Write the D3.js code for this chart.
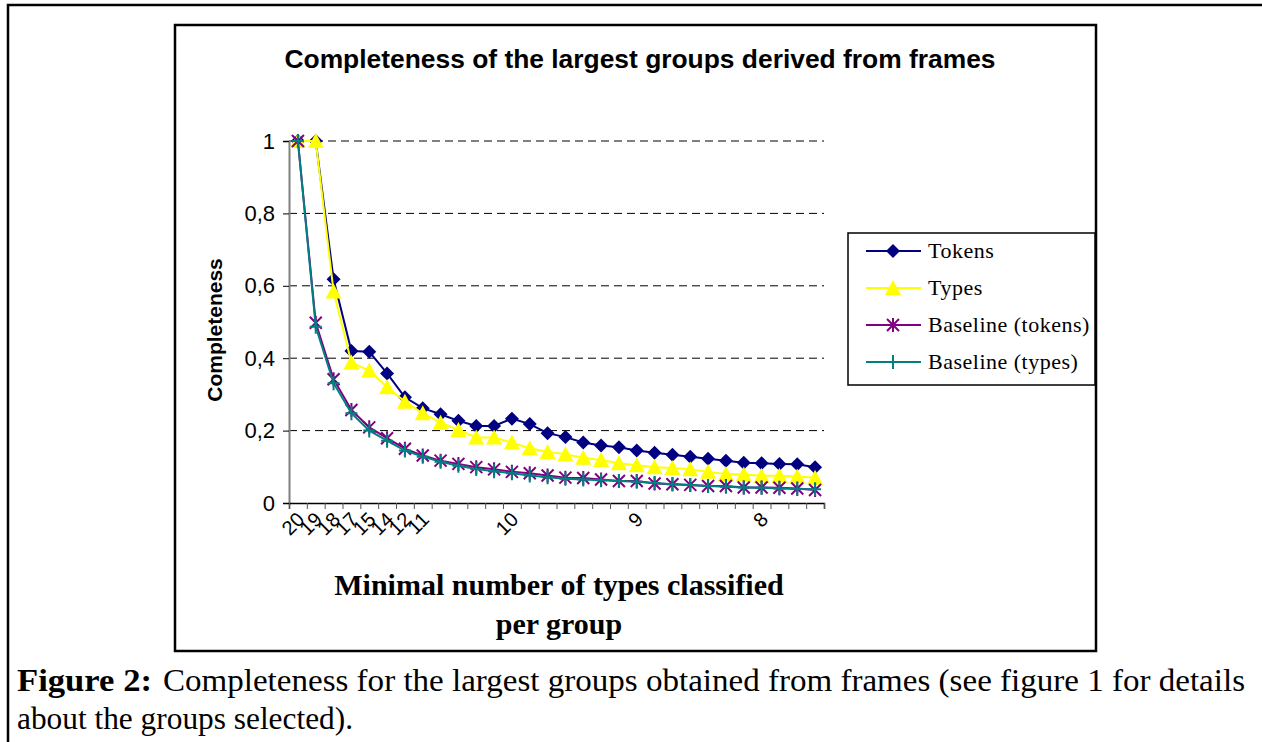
<!DOCTYPE html>
<html>
<head>
<meta charset="utf-8">
<script src="https://cdn.jsdelivr.net/npm/d3@7"></script>
<style>
  body { margin: 0; background: #fff; }
  svg { display: block; }
</style>
</head>
<body>
<div id="chart"></div>
<script>
// values, one point per group (30 groups)
var xLabels = ["20", "19", "18", "17", "15", "14", "12", "11", "", "", "", "", "10", "", "", "", "", "", "", "9", "", "", "", "", "", "", "8", "", "", ""];

var tokens = [1, 1, 0.618, 0.42, 0.418, 0.358, 0.292, 0.262, 0.245, 0.227, 0.213, 0.213, 0.233, 0.218, 0.193, 0.182,
  0.167, 0.159, 0.154, 0.145, 0.139, 0.133, 0.128, 0.122, 0.117, 0.111, 0.110, 0.108, 0.107, 0.099];

var types = [1, 1, 0.584, 0.388, 0.366, 0.32, 0.28, 0.248, 0.222, 0.202, 0.181, 0.181, 0.167, 0.151, 0.141, 0.135,
  0.125, 0.119, 0.110, 0.104, 0.099, 0.097, 0.093, 0.086, 0.080, 0.079, 0.075, 0.075, 0.073, 0.070];

var baseTokens = [1, 0.498, 0.342, 0.257, 0.209, 0.179, 0.15, 0.131, 0.117, 0.108, 0.099, 0.093, 0.086, 0.082, 0.076, 0.07,
  0.069, 0.065, 0.061, 0.061, 0.054, 0.052, 0.05, 0.047, 0.047, 0.043, 0.043, 0.042, 0.04, 0.036];

var baseTypes = [1, 0.487, 0.331, 0.248, 0.2, 0.172, 0.145, 0.128, 0.114, 0.103, 0.094, 0.088, 0.082, 0.076, 0.071, 0.067,
  0.065, 0.063, 0.061, 0.059, 0.055, 0.052, 0.05, 0.047, 0.045, 0.043, 0.042, 0.040, 0.039, 0.038];

var yTicks = [0, 0.2, 0.4, 0.6, 0.8, 1];

var svgWidth = 1262;
var svgHeight = 742;

var svg = d3.select("#chart")
  .append("svg")
  .attr("width", svgWidth)
  .attr("height", svgHeight);

svg.append("rect")
  .attr("width", svgWidth)
  .attr("height", svgHeight)
  .attr("fill", "#fff");

// page frame (only top and left edges are visible)
svg.append("path")
  .attr("d", "M8,742 V5 H1262")
  .attr("fill", "none")
  .attr("stroke", "#000")
  .attr("stroke-width", 2.5);

// chart box
svg.append("rect")
  .attr("x", 175)
  .attr("y", 25)
  .attr("width", 921)
  .attr("height", 626)
  .attr("fill", "#fff")
  .attr("stroke", "#000")
  .attr("stroke-width", 2.5);

var plot = { left: 289, right: 824, top: 141, bottom: 503 };

var idx = d3.range(tokens.length);

var xBand = d3.scaleBand()
  .domain(idx)
  .range([plot.left, plot.right]);

var xEdge = d3.scaleLinear()
  .domain([0, tokens.length])
  .range([plot.left, plot.right]);

var yScale = d3.scaleLinear()
  .domain([0, 1])
  .range([plot.bottom, plot.top]);

var xc = function(i) { return xBand(i) + xBand.bandwidth() / 2; };

// gridlines
svg.append("g")
  .selectAll("line")
  .data(yTicks.filter(function(d) { return d > 0; }))
  .enter()
  .append("line")
  .attr("x1", plot.left)
  .attr("x2", plot.right)
  .attr("y1", function(d) { return yScale(d); })
  .attr("y2", function(d) { return yScale(d); })
  .attr("stroke", "#000")
  .attr("stroke-width", 1)
  .attr("stroke-dasharray", "8,5");

// y axis
var yAxis = d3.axisLeft(yScale)
  .tickValues(yTicks)
  .tickSize(6)
  .tickPadding(8)
  .tickFormat(function(d) { return String(d).replace(".", ","); });

var yAxisG = svg.append("g")
  .attr("transform", "translate(" + plot.left + ",0)")
  .call(yAxis);
yAxisG.select(".domain").attr("stroke", "#808080").attr("stroke-width", 2);
yAxisG.selectAll(".tick line").attr("stroke", "#000");
yAxisG.selectAll("text")
  .attr("font-family", "Liberation Sans, Arial, sans-serif")
  .attr("font-size", 22)
  .attr("fill", "#000");

// x axis (ticks between categories)
var xAxis = d3.axisBottom(xEdge)
  .tickValues(d3.range(tokens.length + 1))
  .tickSize(6)
  .tickFormat("");

var xAxisG = svg.append("g")
  .attr("transform", "translate(0," + plot.bottom + ")")
  .call(xAxis);
xAxisG.select(".domain").attr("stroke", "#000").attr("stroke-width", 1.5);
xAxisG.selectAll(".tick line").attr("stroke", "#555");

// category labels, rotated
svg.append("g")
  .selectAll("text")
  .data(idx.filter(function(i) { return xLabels[i] !== ""; }))
  .enter()
  .append("text")
  .attr("transform", function(i) { return "translate(" + (xc(i) + 4) + "," + (plot.bottom + 14) + ") rotate(-45)"; })
  .attr("text-anchor", "end")
  .attr("dominant-baseline", "middle")
  .attr("font-family", "Liberation Sans, Arial, sans-serif")
  .attr("font-size", 20)
  .attr("fill", "#000")
  .text(function(i) { return xLabels[i]; });

// series
var series = [
  { name: "Tokens", values: tokens, color: "#000080", marker: "diamond" },
  { name: "Types", values: types, color: "#ffff00", marker: "triangle" },
  { name: "Baseline (tokens)", values: baseTokens, color: "#800080", marker: "star" },
  { name: "Baseline (types)", values: baseTypes, color: "#008080", marker: "plus" }
];

var line = d3.line()
  .x(function(d, i) { return xc(i); })
  .y(function(d) { return yScale(d); });

function drawMarker(g, type, color) {
  if (type === "diamond") {
    g.append("path").attr("d", "M0,-7 L7,0 L0,7 L-7,0 Z").attr("fill", color);
  } else if (type === "triangle") {
    g.append("path").attr("d", "M0,-8 L8,7 L-8,7 Z").attr("fill", color);
  } else if (type === "star") {
    g.append("path")
      .attr("d", "M-6,-6 L6,6 M-6,6 L6,-6 M0,-7 V7")
      .attr("stroke", color).attr("stroke-width", 2).attr("fill", "none");
  } else {
    g.append("path")
      .attr("d", "M-6,0 H6 M0,-7 V7")
      .attr("stroke", color).attr("stroke-width", 2).attr("fill", "none");
  }
}

series.forEach(function(s) {
  var g = svg.append("g");
  g.append("path")
    .datum(s.values)
    .attr("d", line)
    .attr("fill", "none")
    .attr("stroke", s.color)
    .attr("stroke-width", 2);

  g.selectAll("g.pt")
    .data(s.values)
    .enter()
    .append("g")
    .attr("class", "pt")
    .attr("transform", function(d, i) { return "translate(" + xc(i) + "," + yScale(d) + ")"; })
    .each(function() { drawMarker(d3.select(this), s.marker, s.color); });
});

// title
svg.append("text")
  .attr("x", 640)
  .attr("y", 68)
  .attr("text-anchor", "middle")
  .attr("font-family", "Liberation Sans, Arial, sans-serif")
  .attr("font-weight", "bold")
  .attr("font-size", 25)
  .attr("textLength", 711)
  .attr("lengthAdjust", "spacingAndGlyphs")
  .text("Completeness of the largest groups derived from frames");

// y axis title
svg.append("text")
  .attr("transform", "translate(222,330) rotate(-90)")
  .attr("text-anchor", "middle")
  .attr("font-family", "Liberation Sans, Arial, sans-serif")
  .attr("font-weight", "bold")
  .attr("font-size", 21)
  .text("Completeness");

// x axis title
var xTitle = ["Minimal number of types classified", "per group"];
svg.append("g")
  .selectAll("text")
  .data(xTitle)
  .enter()
  .append("text")
  .attr("x", 559)
  .attr("y", function(d, i) { return 595 + i * 39; })
  .attr("text-anchor", "middle")
  .attr("font-family", "Liberation Serif, Times New Roman, serif")
  .attr("font-weight", "bold")
  .attr("font-size", 30)
  .text(function(d) { return d; });

// legend
var legend = svg.append("g");
legend.append("rect")
  .attr("x", 848)
  .attr("y", 233)
  .attr("width", 247)
  .attr("height", 152)
  .attr("fill", "#fff")
  .attr("stroke", "#000")
  .attr("stroke-width", 1.5);

var legendItem = legend.selectAll("g.item")
  .data(series)
  .enter()
  .append("g")
  .attr("class", "item")
  .attr("transform", function(d, i) { return "translate(866," + (251 + i * 37) + ")"; });

legendItem.append("line")
  .attr("x1", 0).attr("x2", 55)
  .attr("stroke", function(d) { return d.color; })
  .attr("stroke-width", 2);

legendItem.append("g")
  .attr("transform", "translate(27,0)")
  .each(function(d) { drawMarker(d3.select(this), d.marker, d.color); });

legendItem.append("text")
  .attr("x", 62)
  .attr("y", 7)
  .attr("font-family", "Liberation Serif, Times New Roman, serif")
  .attr("font-size", 22)
  .attr("letter-spacing", 0.5)
  .attr("fill", "#000")
  .text(function(d) { return d.name; });

// caption
var caption = svg.append("g")
  .attr("font-family", "Liberation Serif, Times New Roman, serif")
  .attr("font-size", 32)
  .attr("fill", "#000");

caption.append("text")
  .attr("x", 17)
  .attr("y", 691)
  .attr("font-weight", "bold")
  .attr("textLength", 135)
  .attr("lengthAdjust", "spacingAndGlyphs")
  .text("Figure 2:");

caption.append("text")
  .attr("x", 163)
  .attr("y", 691)
  .attr("textLength", 1082)
  .attr("lengthAdjust", "spacingAndGlyphs")
  .text("Completeness for the largest groups obtained from frames (see figure 1 for details");

caption.append("text")
  .attr("x", 17)
  .attr("y", 729)
  .attr("textLength", 336)
  .attr("lengthAdjust", "spacingAndGlyphs")
  .text("about the groups selected).");
</script>
</body>
</html>
